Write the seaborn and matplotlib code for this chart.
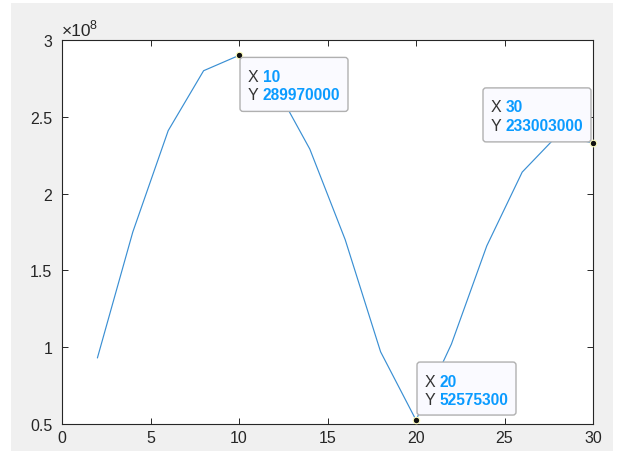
import matplotlib
matplotlib.use("Agg")
import matplotlib.pyplot as plt
import matplotlib.transforms as mtransforms
from matplotlib.patches import FancyBboxPatch, Rectangle
import seaborn as sns
import pandas as pd

# ---- data ----
x_vals = [2, 4, 6, 8, 10, 12, 14, 16, 18, 20, 22, 24, 26, 28, 30]
y_vals = [0.93e8, 1.75e8, 2.41e8, 2.80e8, 2.8997e8, 2.71e8, 2.29e8, 1.70e8,
          0.97e8, 0.525753e8, 1.02e8, 1.66e8, 2.14e8, 2.38e8, 2.33003e8]
tip_x = [10, 20, 30]
tip_y = [289970000, 52575300, 233003000]
x_ticks = [0, 5, 10, 15, 20, 25, 30]
y_ticks = [0.5e8, 1.0e8, 1.5e8, 2.0e8, 2.5e8, 3.0e8]

df = pd.DataFrame({"x": x_vals, "y": y_vals})

sns.set_theme(style="white")
plt.rcParams["font.family"] = ["Liberation Sans", "DejaVu Sans"]

W, H = 620, 452
fig = plt.figure(figsize=(W / 100, H / 100), dpi=100)
fig.patch.set_facecolor("white")
fig.patches.append(Rectangle((11 / W, 0), 602 / W, 448 / H, transform=fig.transFigure,
                             facecolor="#f0f0f0", edgecolor="none", zorder=-10))

ax = fig.add_axes([62 / W, (H - 425) / H, 531 / W, 384 / H])
ax.set_facecolor("white")

sns.lineplot(data=df, x="x", y="y", ax=ax, color="#3a8fd3", linewidth=0.85,
             estimator=None, sort=False)

ax.set_xlim(0, 30)
ax.set_ylim(0.5e8, 3.0e8)
ax.set_xticks(x_ticks)
ax.set_yticks(y_ticks)
ax.set_xticklabels([f"{v:g}" for v in x_ticks])
ax.set_yticklabels([f"{v / 1e8:g}" for v in y_ticks])
ax.set_xlabel("")
ax.set_ylabel("")

axis_col = "#262626"
for s in ax.spines.values():
    s.set_visible(True)
    s.set_color(axis_col)
    s.set_linewidth(0.8)
ax.tick_params(axis="both", which="both", direction="in", length=4, width=0.7,
               color=axis_col, labelcolor=axis_col, labelsize=11.5,
               top=True, right=True, bottom=True, left=True)
ax.tick_params(axis="x", pad=4)
ax.tick_params(axis="y", pad=7)

ident = mtransforms.IdentityTransform()

# exponent label (pixel coords, y up)
fig.text(61.5, H - 36.5, "\u00d710", transform=ident, fontsize=12.5, color=axis_col,
         ha="left", va="baseline")
fig.text(90, H - 29.5, "8", transform=ident, fontsize=9, color=axis_col,
         ha="left", va="baseline")

# ---- data tips ----
fig.canvas.draw()
# (dx_left, dy_top) offsets of box top-left from point in pixels (y up), box w, h
box_specs = [(1, -2, 108, 54), (1, 58, 99, 53), (-110, 55, 108, 54)]
for xv, yv, (dx, dy, bw, bh) in zip(tip_x, tip_y, box_specs):
    px, py = ax.transData.transform((xv, yv))
    left = px + dx
    top = py + dy
    box = FancyBboxPatch((left, top - bh), bw, bh,
                         boxstyle="round,pad=0,rounding_size=3",
                         transform=ident, facecolor="#fafaff", edgecolor="#b0b0b0",
                         linewidth=1.0, zorder=5, clip_on=False)
    fig.patches.append(box)
    for i, (lab, val) in enumerate([("X", xv), ("Y", yv)]):
        cy = top - 19 - 18.5 * i
        fig.text(left + 8, cy, lab, transform=ident, fontsize=11.5, color="#333333",
                 ha="left", va="center", zorder=6)
        fig.text(left + 22.5, cy, f"{val}", transform=ident, fontsize=11.2,
                 color="#0a9bff", fontweight="bold", ha="left", va="center", zorder=6)

ax.scatter(tip_x, tip_y, s=22, color="#111111", edgecolors="#ffffc0",
           linewidths=0.8, zorder=7, clip_on=False)

fig.savefig("out.png", dpi=100)
